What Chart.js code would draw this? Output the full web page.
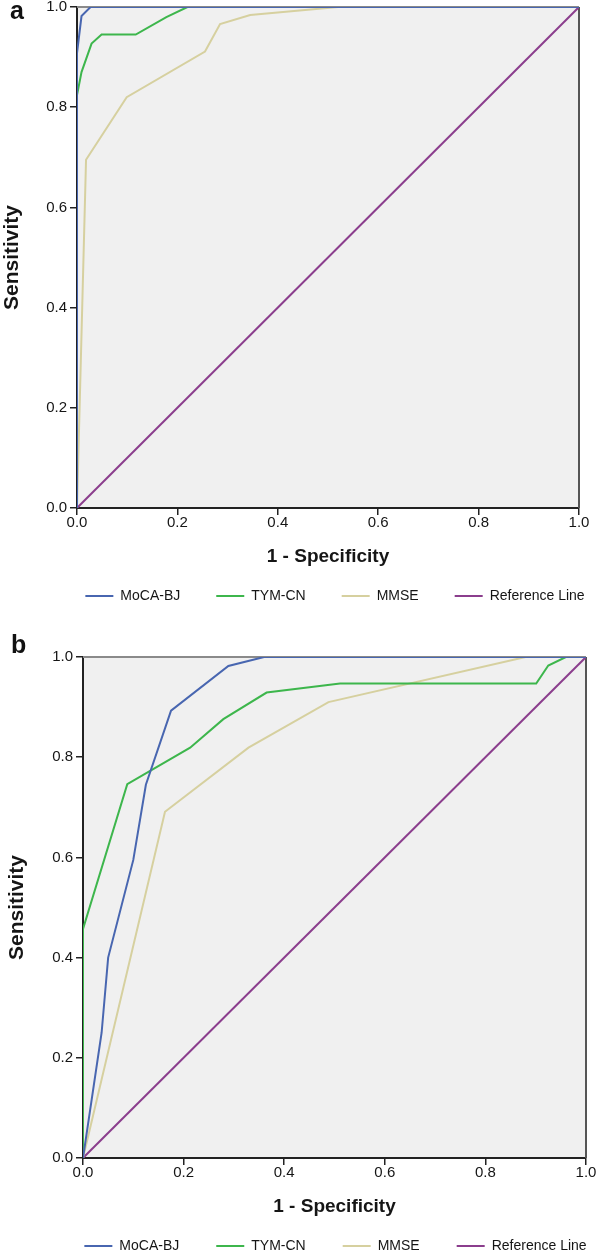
<!DOCTYPE html>
<html>
<head>
<meta charset="utf-8">
<title>ROC curves</title>
<script src="https://cdn.jsdelivr.net/npm/chart.js@4.4.1/dist/chart.umd.min.js"></script>
<style>
  html, body { margin: 0; padding: 0; background: #fff; }
  #page { position: relative; width: 598px; height: 1255px; overflow: hidden; }
  canvas { position: absolute; left: 0; }
  .panel { position: absolute; font: bold 25px "Liberation Sans", Arial, sans-serif; line-height: 25px; color: #111; }
</style>
</head>
<body>
<div id="page">
  <canvas id="rocA" width="598" height="625" style="top:0;width:598px;height:625px"></canvas>
  <canvas id="rocB" width="598" height="638" style="top:625px;width:598px;height:638px"></canvas>
  <div class="panel" style="left:10px;top:-2px">a</div>
  <div class="panel" style="left:11px;top:632px">b</div>
</div>
<script>
var tickValues = [0, 0.2, 0.4, 0.6, 0.8, 1.0];
var tickLabels = ["0.0", "0.2", "0.4", "0.6", "0.8", "1.0"];
var seriesNames = ["MoCA-BJ", "TYM-CN", "MMSE", "Reference Line"];
var seriesColors = ["#4866b0", "#3db64c", "#d6d09f", "#8b3e8d"];

// panel a
var mocaA_x = [0, 0, 0.009, 0.027, 1];
var mocaA_y = [0, 0.908, 0.982, 1, 1];
var tymA_x = [0, 0, 0.009, 0.029, 0.049, 0.117, 0.178, 0.22, 1];
var tymA_y = [0, 0.824, 0.87, 0.927, 0.945, 0.945, 0.98, 1, 1];
var mmseA_x = [0, 0.018, 0.099, 0.255, 0.285, 0.345, 0.52, 1];
var mmseA_y = [0, 0.695, 0.82, 0.911, 0.966, 0.984, 1, 1];

// panel b
var mocaB_x = [0, 0.037, 0.05, 0.1, 0.125, 0.175, 0.289, 0.36, 1];
var mocaB_y = [0, 0.25, 0.4, 0.595, 0.745, 0.893, 0.982, 1, 1];
var tymB_x = [0, 0, 0.088, 0.213, 0.279, 0.365, 0.511, 0.901, 0.925, 0.96, 1];
var tymB_y = [0, 0.457, 0.746, 0.819, 0.876, 0.929, 0.947, 0.947, 0.983, 1, 1];
var mmseB_x = [0, 0.163, 0.329, 0.488, 0.88, 1];
var mmseB_y = [0, 0.691, 0.819, 0.91, 1, 1];

var refX = [0, 1];
var refY = [0, 1];

var fontFamily = '"Liberation Sans", Arial, sans-serif';

function toPoints(xs, ys) {
  return xs.map(function (x, i) {
    return { x: x, y: ys[i] };
  });
}

var plotFrame = {
  id: "plotFrame",
  afterLayout: function (chart) {
    // centre the legend row under the plot instead of the canvas
    var lg = chart.legend, a = chart.chartArea;
    if (!lg) return;
    var d = (a.left + a.right) / 2 + (chart.options.legendShift || 0) - (lg.left + lg.right) / 2;
    lg.left += d;
    lg.right += d;
  },
  beforeDraw: function (chart) {
    var a = chart.chartArea, ctx = chart.ctx;
    ctx.save();
    ctx.fillStyle = "#f0f0f0";
    ctx.fillRect(a.left, a.top, a.right - a.left, a.bottom - a.top);
    ctx.restore();
  },
  beforeDatasetsDraw: function (chart) {
    var a = chart.chartArea, ctx = chart.ctx;
    ctx.save();
    ctx.lineWidth = 2;
    ctx.strokeStyle = "#8a8a8a";
    ctx.beginPath();
    ctx.moveTo(a.left, a.top);
    ctx.lineTo(a.right, a.top);
    ctx.stroke();
    ctx.strokeStyle = "#555";
    ctx.beginPath();
    ctx.moveTo(a.right, a.top);
    ctx.lineTo(a.right, a.bottom);
    ctx.stroke();
    ctx.restore();
  },
};

function axisTicks(scale) {
  scale.ticks = tickValues.map(function (v) {
    return { value: v };
  });
}

function drawRoc(canvasId, curves, box) {
  var ctx = document.getElementById(canvasId).getContext("2d");

  var datasets = curves.map(function (c, i) {
    return {
      label: seriesNames[i],
      data: toPoints(c[0], c[1]),
      borderColor: seriesColors[i],
      backgroundColor: seriesColors[i],
      borderWidth: 2,
      pointRadius: 0,
      tension: 0,
      fill: false,
    };
  });

  var tickFont = { family: fontFamily, size: 15 };

  return new Chart(ctx, {
    type: "line",
    data: { datasets: datasets },
    plugins: [plotFrame],
    options: {
      responsive: false,
      animation: false,
      legendShift: box.legendShift,
      layout: {
        padding: { top: box.top, right: box.right, bottom: box.bottom, left: 0 },
      },
      scales: {
        x: {
          type: "linear",
          min: 0,
          max: 1,
          z: 1,
          afterBuildTicks: axisTicks,
          afterFit: function (s) {
            s.height = box.xAxisHeight;
            s.paddingLeft = 0;
            s.paddingRight = 0;
          },
          ticks: {
            autoSkip: false,
            maxRotation: 0,
            padding: -1,
            color: "#151515",
            font: tickFont,
            callback: function (v, i) {
              return tickLabels[i];
            },
          },
          grid: { drawOnChartArea: false, tickLength: 7, tickColor: "#222", lineWidth: 1.5 },
          border: { display: true, color: "#222", width: 2 },
          title: {
            display: true,
            text: "1 - Specificity",
            color: "#151515",
            font: { family: fontFamily, size: 19, weight: "bold" },
            padding: { top: 0, bottom: box.xTitlePad },
          },
        },
        y: {
          type: "linear",
          min: 0,
          max: 1,
          z: 1,
          afterBuildTicks: axisTicks,
          afterFit: function (s) {
            s.width = box.yAxisWidth;
            s.paddingTop = 0;
            s.paddingBottom = 0;
          },
          ticks: {
            autoSkip: false,
            padding: 3,
            color: "#151515",
            font: tickFont,
            callback: function (v, i) {
              return tickLabels[i];
            },
          },
          grid: { drawOnChartArea: false, tickLength: 7, tickColor: "#222", lineWidth: 1.5 },
          border: { display: true, color: "#222", width: 2 },
          title: {
            display: true,
            text: "Sensitivity",
            color: "#151515",
            font: { family: fontFamily, size: 21, weight: "bold" },
            padding: { top: box.yTitlePad, bottom: 0 },
          },
        },
      },
      plugins: {
        tooltip: { enabled: false },
        legend: {
          position: "bottom",
          labels: {
            usePointStyle: true,
            pointStyle: "line",
            pointStyleWidth: 28,
            padding: box.legendGap,
            color: "#151515",
            font: { family: fontFamily, size: 14 },
          },
        },
      },
    },
  });
}

drawRoc(
  "rocA",
  [[mocaA_x, mocaA_y], [tymA_x, tymA_y], [mmseA_x, mmseA_y], [refX, refY]],
  { top: 7, right: 19, bottom: 12, yAxisWidth: 77, xAxisHeight: 45, xTitlePad: -15.4, yTitlePad: 0, legendGap: 36, legendShift: 7 }
);

drawRoc(
  "rocB",
  [[mocaB_x, mocaB_y], [tymB_x, tymB_y], [mmseB_x, mmseB_y], [refX, refY]],
  { top: 32, right: 12, bottom: 0, yAxisWidth: 83, xAxisHeight: 44, xTitlePad: -16.4, yTitlePad: 5, legendGap: 37, legendShift: 1 }
);
</script>
</body>
</html>
